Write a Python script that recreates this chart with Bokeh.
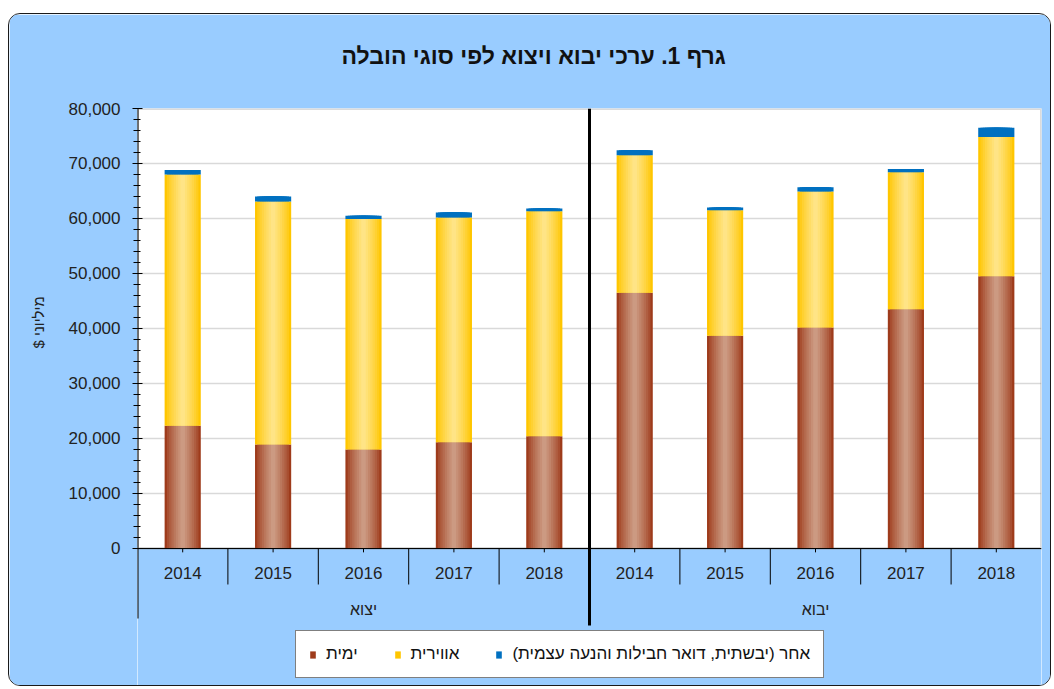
import numpy as np
from bokeh.plotting import figure
from bokeh.models import (FactorRange, Range1d, FixedTicker, BoxAnnotation, Span, Title,
                          Legend, LegendItem, ColumnDataSource, NumeralTickFormatter)
from bokeh.core.properties import value
from bokeh.embed import file_html
from bokeh.resources import INLINE

# ---------------- data ----------------
years = ["2014", "2015", "2016", "2017", "2018"]
groups = ["יצוא", "יבוא"]
# order: export 2014..2018, import 2014..2018 (millions $)
sea = [22300, 18900, 18000, 19300, 20400, 46500, 38700, 40200, 43500, 49500]
air = [45700, 44200, 41900, 40900, 40900, 25000, 22800, 24700, 24900, 25300]
other = [800, 900, 600, 900, 500, 900, 500, 800, 600, 1700]
series_names = ["ימית", "אווירית", "אחר (יבשתית, דואר חבילות והנעה עצמית)\u200f"]
title_text = "גרף 1. ערכי יבוא ויצוא לפי סוגי הובלה"
y_label = "מיליוני $\u200f"
y_ticks = [0, 10000, 20000, 30000, 40000, 50000, 60000, 70000, 80000]
y_minor = list(range(0, 80001, 2000))

FONT = "Liberation Sans"
BLUE_BG = "#99CCFF"

factors = [(g, y) for g in groups for y in years]
year_labels = [y for g in groups for y in years]
src = ColumnDataSource(dict(x=factors, sea=sea, air=air, other=other, year=year_labels))

p = figure(x_range=FactorRange(*factors, factor_padding=0, group_padding=0, range_padding=0),
           y_range=Range1d(-25273, 80000),
           width=1043, height=673, output_backend="svg", toolbar_location=None,
           x_axis_location=None,
           min_border_left=128, min_border_right=11, min_border_top=94, min_border_bottom=0,
           background_fill_color="white", border_fill_color=BLUE_BG, outline_line_color=None)
p.styles = {"border": "1px solid #1a1a1a", "border-radius": "12px", "overflow": "hidden",
            "margin-left": "8px", "margin-top": "13px"}

# title (trailing empty line lifts it above the plot area)
p.title.text = title_text + "\n"
p.title.align = "left"
p.title.offset = 204
p.title.text_font = FONT
p.title.text_font_size = "23px"
p.title.text_font_style = "bold"
p.title.text_color = "#111111"
p.title.standoff = 28

# y axis label as a left-side title
p.add_layout(Title(text=y_label, align="left", offset=339, standoff=36, vertical_align="middle",
                   text_font=FONT, text_font_size="15px", text_font_style="normal",
                   text_color="#222222"), "left")

# y axis
p.yaxis.ticker = FixedTicker(ticks=y_ticks, minor_ticks=y_minor)
p.yaxis.formatter = NumeralTickFormatter(format="0,0")
p.yaxis.axis_line_color = None
p.yaxis.major_tick_in = 5
p.yaxis.major_tick_out = 5
p.yaxis.minor_tick_in = 3
p.yaxis.minor_tick_out = 4
p.yaxis.major_tick_line_color = "black"
p.yaxis.minor_tick_line_color = "black"
p.yaxis.major_label_text_font = FONT
p.yaxis.major_label_text_font_size = "17px"
p.yaxis.major_label_text_color = "#222222"
p.yaxis.major_label_standoff = 12
p.xgrid.visible = False
p.ygrid.ticker = FixedTicker(ticks=y_ticks[1:])
p.ygrid.grid_line_color = "#D9D9D9"
p.ygrid.grid_line_width = 1.5

# region below the category axis is the panel colour; border around plot area
p.add_layout(BoxAnnotation(top=0, fill_color=BLUE_BG, fill_alpha=1, line_color=None, level="underlay"))
p.add_layout(BoxAnnotation(bottom=0, fill_alpha=0, line_color="#888888", line_width=3, level="underlay"))

# ---------------- bars with cylinder-like shading ----------------
def mix(c1, c2, t):
    a = [int(c1[i:i + 2], 16) for i in (1, 3, 5)]
    b = [int(c2[i:i + 2], 16) for i in (1, 3, 5)]
    return "#%02x%02x%02x" % tuple(int(round(a[k] + (b[k] - a[k]) * t)) for k in range(3))

sea_edge, sea_mid = "#9E3B1B", "#CC9A82"
air_edge, air_mid = "#FFC600", "#FFE486"
other_c = "#0070C0"
n_layers = 8
widths = np.linspace(0.40, 0.05, n_layers)
base = None
for i, w in enumerate(widths):
    t = (i / (n_layers - 1)) ** 0.8
    rs = p.vbar_stack(["sea", "air", "other"], x="x", width=w, source=src,
                      color=[mix(sea_edge, sea_mid, t), mix(air_edge, air_mid, t), other_c],
                      line_color=None)
    if base is None:
        base = rs

# ---------------- category axis drawn as a table ----------------
p.add_layout(Span(location=0, dimension="width", line_color="black", line_width=1))
p.segment(x0="x", y0=0, x1="x", y1=-700, source=src, line_color="black", line_width=1)
sep_x = [(g, y, 0.5) for g in groups for y in years[:-1]]
p.segment(x0=sep_x, y0=0, x1=sep_x, y1=-6545, line_color="black", line_width=1)
left_x = [(groups[0], years[0], -0.5)]
p.segment(x0=left_x, y0=-12727, x1=left_x, y1=80000, line_color="black", line_width=2)
mid_x = [(groups[0], years[-1], 0.5)]
p.segment(x0=mid_x, y0=-14000, x1=mid_x, y1=80000, line_color="black", line_width=3)

p.text(x="x", y=-4545, text="year", source=src, text_align="center", text_baseline="middle",
       text_font=value(FONT), text_font_size="17px", text_color="#222222")
p.text(x=groups, y=-11090, text=groups, text_align="center", text_baseline="middle",
       text_font=value(FONT), text_font_size="16px", text_color="#222222")

# legend
legend = Legend(items=[LegendItem(label=series_names[k], renderers=[base[k]]) for k in range(3)],
                orientation="horizontal", location=(158, 9), margin=0, padding=13,
                spacing=36, label_standoff=10, glyph_width=7, glyph_height=9,
                label_text_font=FONT, label_text_font_size="17px", label_text_color="#111111",
                background_fill_color="white", background_fill_alpha=1,
                border_line_color="black", border_line_width=1)
p.add_layout(legend)

open("out.html", "w").write(file_html(p, INLINE))
